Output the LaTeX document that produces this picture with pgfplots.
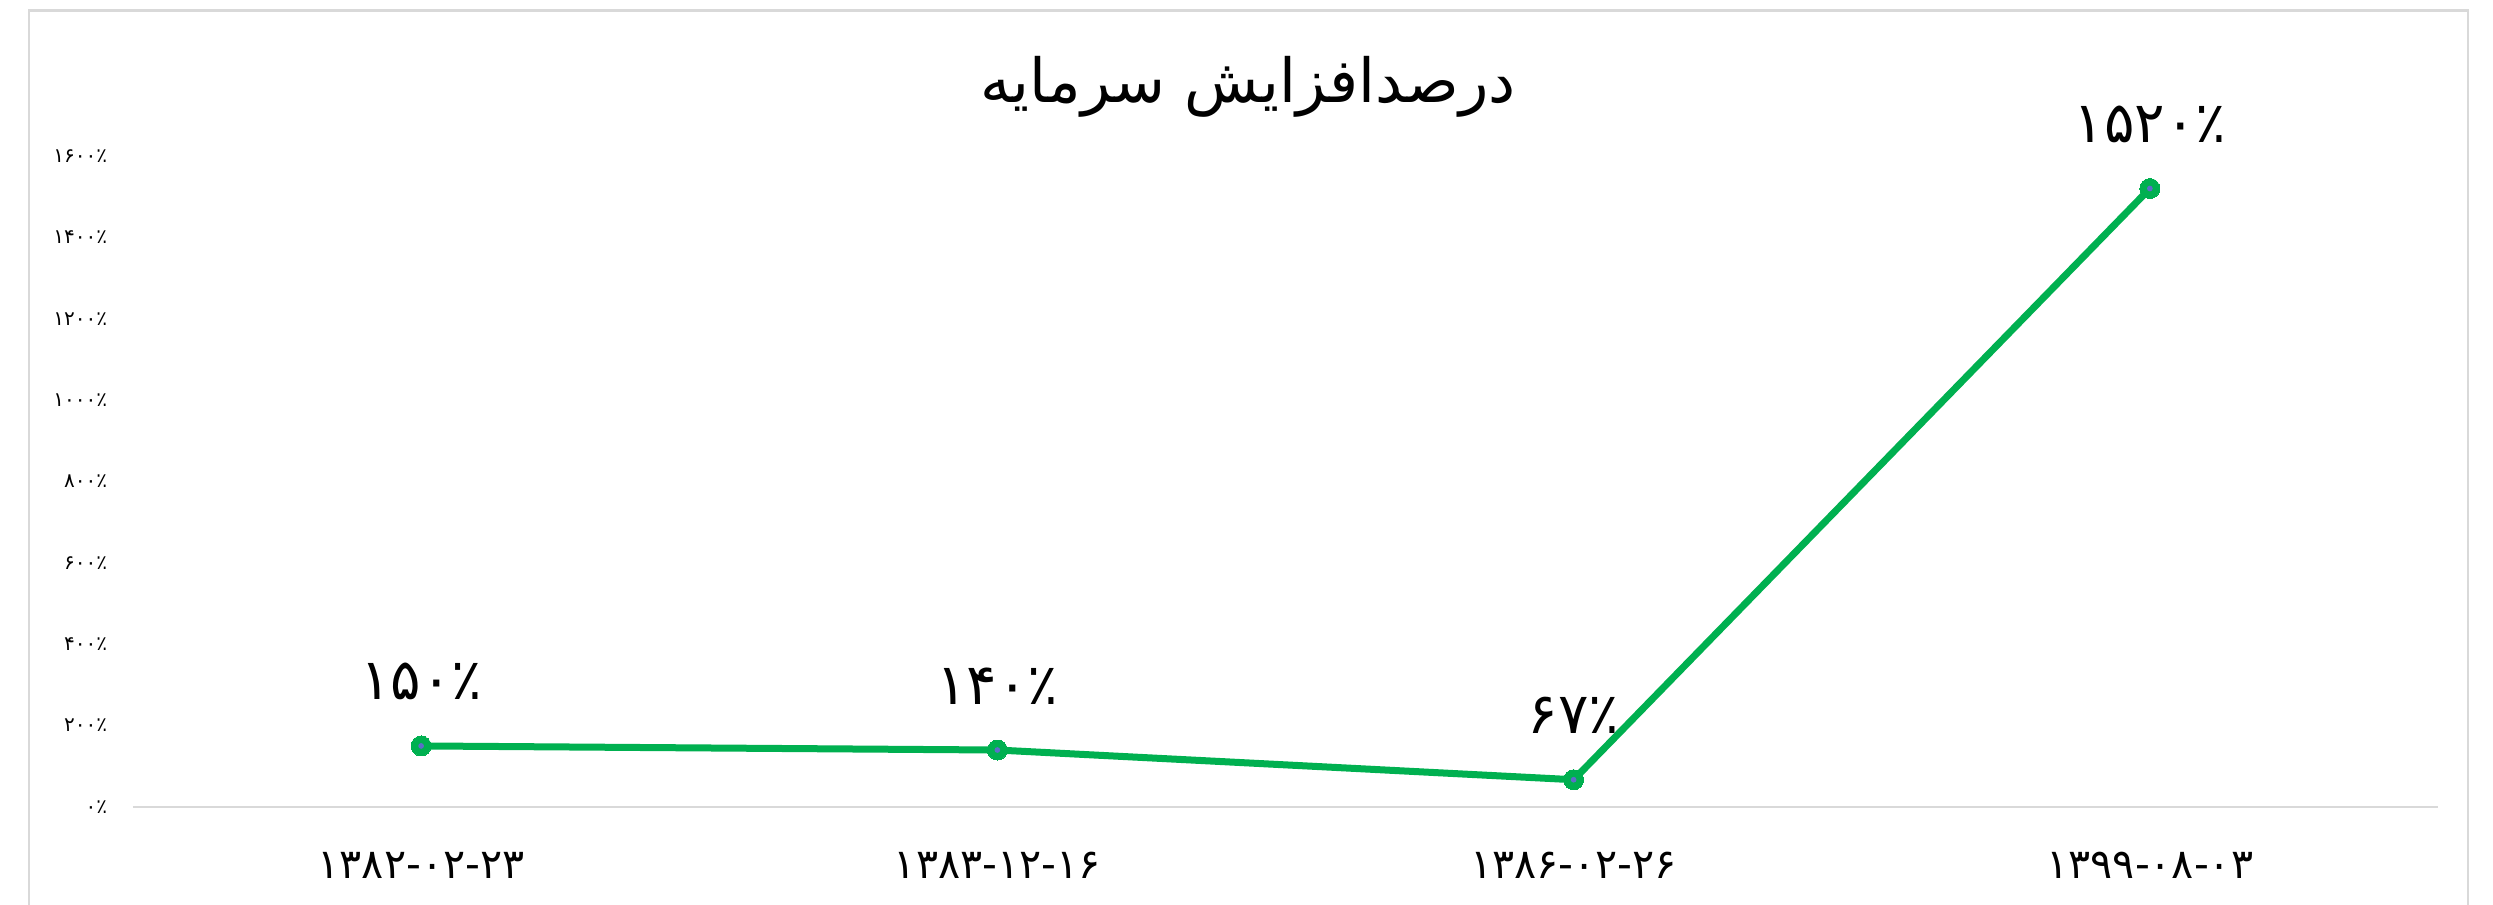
\documentclass[border=0pt]{standalone}
\usepackage{fontspec}
\usepackage{pgfplots}
\usepackage{pgfplotstable}
\pgfplotsset{compat=1.18}
\TeXXeTstate=1
\newfontfamily\fa[Script=Arabic]{DejaVu Sans}
\definecolor{lgreen}{RGB}{0,176,80}
\definecolor{bordergray}{RGB}{217,217,217}
\definecolor{dotblue}{RGB}{91,110,200}

\pgfplotstableread{
x y label
0 150 ۱۵۰٪
1 140 ۱۴۰٪
2 67 ۶۷٪
3 1520 ۱۵۲۰٪
}\datatable

\begin{document}
\begin{tikzpicture}
\useasboundingbox (-33.25pt,-24.5pt) rectangle (590pt,201.75pt);
\clip (-33.25pt,-24.5pt) rectangle (590pt,201.75pt);
\fill[white] (-33.25pt,-24.5pt) rectangle (590pt,201.75pt);
\draw[bordergray, line width=0.6pt] (-26pt,-40pt) rectangle (583.75pt,199.1pt);
\begin{axis}[
  at={(0pt,0pt)}, anchor=south west,
  scale only axis,
  width=576.25pt, height=162.75pt,
  xmin=-0.5, xmax=3.5, ymin=0, ymax=1600,
  xtick={0,1,2,3},
  xticklabels={۱۳۸۲-۰۲-۲۳,۱۳۸۳-۱۲-۱۶,۱۳۸۶-۰۲-۲۶,۱۳۹۹-۰۸-۰۳},
  ytick={0,200,400,600,800,1000,1200,1400,1600},
  yticklabels={۰٪,۲۰۰٪,۴۰۰٪,۶۰۰٪,۸۰۰٪,۱۰۰۰٪,۱۲۰۰٪,۱۴۰۰٪,۱۶۰۰٪},
  axis x line*=bottom, axis y line*=left,
  x axis line style={draw=bordergray, line width=0.5pt, -},
  y axis line style={draw=none},
  major tick length=0pt,
  tick style={draw=none},
  xticklabel style={font=\fa\fontsize{10.3}{12}\selectfont, anchor=base, yshift=-18pt, inner sep=0pt},
  yticklabel style={font=\fa\fontsize{5}{6}\selectfont, anchor=east, inner sep=0pt, xshift=-6.25pt},
  clip=false,
]
\addplot[lgreen, line width=1.75pt, mark=*, mark size=2.5pt,
  mark options={fill=lgreen, draw=lgreen, line width=0pt},
  nodes near coords, point meta=explicit symbolic,
  every node near coord/.style={font=\fa\fontsize{14.2}{16}\selectfont, anchor=base, yshift=11.5pt, inner sep=0pt, text=black}]
  table[x=x, y=y, meta=label] {\datatable};
\addplot[only marks, mark=*, mark size=0.5pt, dotblue, mark options={fill=dotblue, draw=none}]
  table[x=x, y=y] {\datatable};
\end{axis}
\node[font=\fa\fontsize{15.2}{18}\selectfont, anchor=base, inner sep=0pt] at (278.75pt,176pt) {\beginR درصدافزایش سرمایه\endR};
\end{tikzpicture}
\end{document}
